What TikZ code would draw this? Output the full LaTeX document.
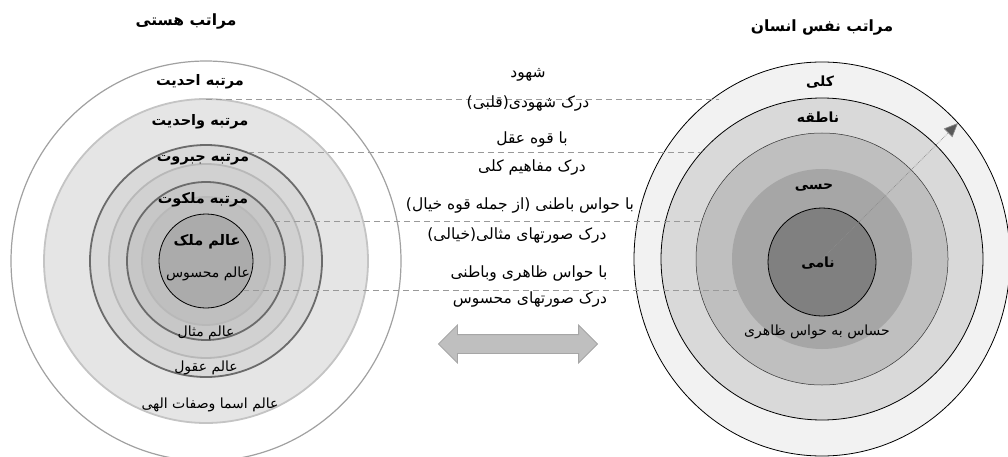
\documentclass[tikz,border=0pt]{standalone}
\usepackage{fontspec}
\usepackage{tikz}
\usetikzlibrary{arrows.meta,shapes.geometric,shapes.arrows,positioning}
\TeXXeTstate=1
\newfontfamily\farsi[Script=Arabic]{DejaVu Sans}
\newcommand{\rtl}[1]{\beginR #1\endR}

\begin{document}
\begin{tikzpicture}[x=1pt,y=-1pt]

\tikzset{ring/.style={circle,inner sep=0pt,outer sep=0pt},
         oval/.style={ellipse,inner sep=0pt,outer sep=0pt},
         title/.style={font=\farsi\bfseries\fontsize{15.5}{18}\selectfont},
         rank/.style={font=\farsi\bfseries\fontsize{14.5}{17}\selectfont},
         level/.style={font=\farsi\bfseries\fontsize{14}{16}\selectfont},
         plain/.style={font=\farsi\fontsize{14}{16}\selectfont},
         note/.style={font=\farsi\fontsize{15.5}{18}\selectfont},
         guide/.style={draw=black!40,dash pattern=on 6pt off 4pt,line width=0.7pt}}

\useasboundingbox (0,0) rectangle (1008,457);

\coordinate (hasti) at (206,261);
\node[oval,minimum width=390pt,minimum height=400pt,draw=black!37,line width=1.2pt,fill=white] (L1) at (hasti) {};
\node[ring,minimum size=324pt,draw=black!23,line width=1.8pt,fill=black!10] (L2) at (hasti) {};
\node[ring,minimum size=232pt,draw=black!58,line width=1.8pt,fill=black!15] (L3) at (hasti) {};
\node[ring,minimum size=194pt,draw=black!28,line width=1.8pt,fill=black!18] (L4) at (hasti) {};
\node[ring,minimum size=158pt,draw=black!58,line width=1.8pt,fill=black!22] (L5) at (hasti) {};
\node[ring,minimum size=128pt,draw=black!28,line width=1.8pt,fill=black!25] (L6) at (hasti) {};
\node[ring,minimum size=94pt,draw,line width=0.8pt,fill=black!33] (L7) at (hasti) {};

\coordinate (nafs) at (822,259);
\node[oval,minimum width=376pt,minimum height=394pt,draw,line width=0.8pt,fill=black!5] (R1) at (nafs) {};
\node[ring,minimum size=322pt,draw,line width=0.8pt,fill=black!15] (R2) at (nafs) {};
\node[ring,minimum size=252pt,draw=black!80,line width=0.5pt,fill=black!25] (R3) at (nafs) {};
\node[ring,minimum size=180pt,fill=black!35] (R4) at (nafs) {};
\node[ring,minimum size=108pt,draw,line width=0.8pt,fill=black!50] (R5) at (822,262) {};

\draw[black!45,densely dotted,line width=0.7pt,-{Triangle[length=14pt,width=12pt,fill=black!65]}] (nafs) -- (R1.45);

\draw[guide] (L2.north) -- (L2.north -| R1.122);
\draw[guide] (L3.69) -- (L3.69 -| R2.139);
\draw[guide] (L5.30) -- (L5.30 -| R3.162);
\draw[guide] (L7.-38) -- (L7.-38 -| R4.199);

\node[title] (hastiT) at (186,22) {\rtl{مراتب هستی}};
\node[title] (nafsT) at (822,28) {\rtl{مراتب نفس انسان}};

\node[rank] (ahadiyat) at (200,82) {\rtl{مرتبه احدیت}};
\node[rank] (vahediyat) at (200,122) {\rtl{مرتبه واحدیت}};
\node[rank] (jabarut) at (203,160) {\rtl{مرتبه جبروت}};
\node[rank] (malakut) at (203,200) {\rtl{مرتبه ملکوت}};
\node[rank] (molk) at (207,242) {\rtl{عالم ملک}};
\node[plain] (mahsus) at (208,274) {\rtl{عالم محسوس}};
\node[plain] (mesal) at (206,333) {\rtl{عالم مثال}};
\node[plain] (oghul) at (206,368) {\rtl{عالم عقول}};
\node[plain] (asma) at (210,405) {\rtl{عالم اسما وصفات الهی}};

\node[note] (shohud) at (528,75) {\rtl{شهود}};
\node[note] (qalbi) at (528,104) {\rtl{درک شهودی(قلبی)}};
\node[note] (aql) at (532,140) {\rtl{با قوه عقل}};
\node[note] (mafahim) at (532,168) {\rtl{درک مفاهیم کلی}};
\node[note] (baten) at (520,206) {\rtl{با حواس باطنی (از جمله قوه خیال)}};
\node[note] (khiali) at (517,236) {\rtl{درک صورتهای مثالی(خیالی)}};
\node[note] (zaher) at (529,274) {\rtl{با حواس ظاهری وباطنی}};
\node[note] (suvar) at (530,300) {\rtl{درک صورتهای محسوس}};

\node[level] (kolli) at (820,82) {\rtl{کلی}};
\node[level] (nateqe) at (818,117) {\rtl{ناطقه}};
\node[level] (hessi) at (814,188) {\rtl{حسی}};
\node[level] (nami) at (818,263) {\rtl{نامی}};
\node[plain] (hassas) at (817,332) {\rtl{حساس به حواس ظاهری}};

\node[double arrow,draw=black!35,fill=black!25,line width=0.8pt,inner xsep=0pt,inner ysep=9pt,
      double arrow head extend=9.5pt,minimum height=159pt] (swap) at (518,344) {};

\end{tikzpicture}
\end{document}
